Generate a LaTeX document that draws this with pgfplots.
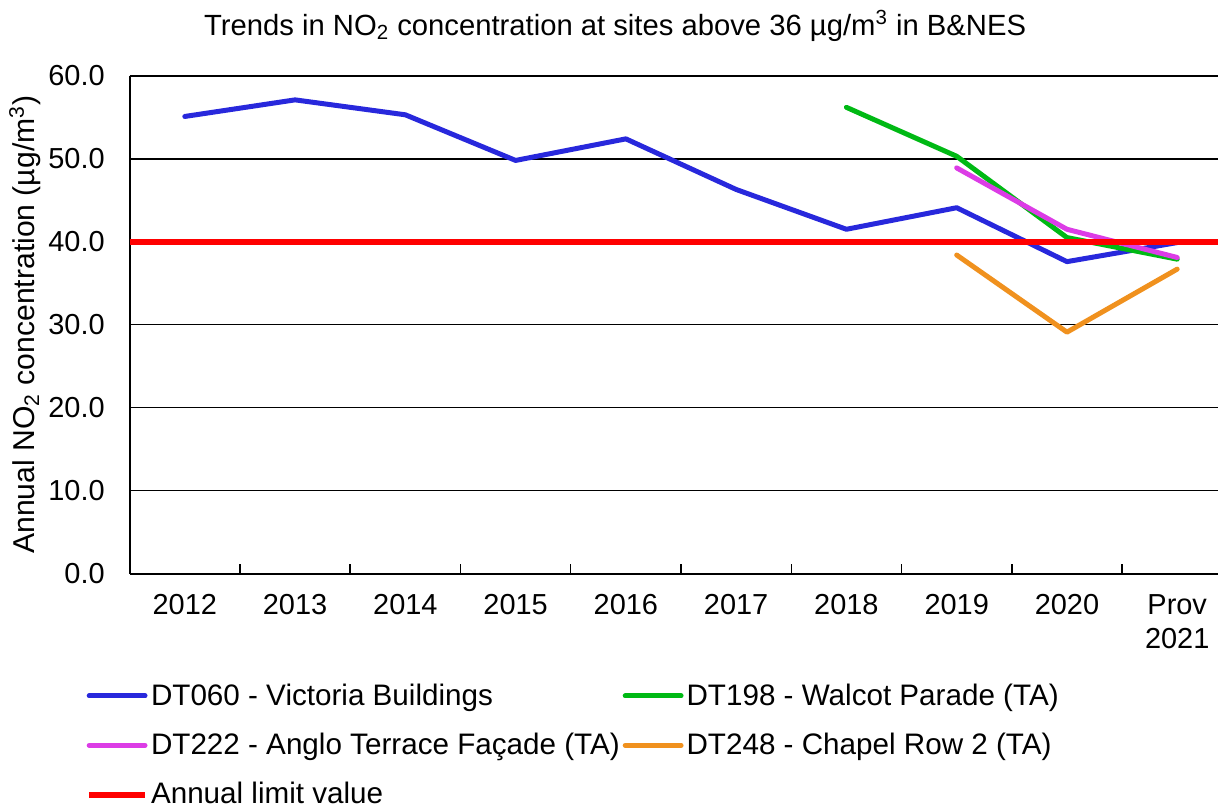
\documentclass[border=0pt]{standalone}
\usepackage{pgfplots}
\pgfplotsset{compat=1.18}
\usepackage{fontspec}
\setmainfont{Liberation Sans}

\definecolor{siteblue}{RGB}{40,40,220}
\definecolor{sitegreen}{RGB}{0,185,20}
\definecolor{sitemagenta}{RGB}{220,60,230}
\definecolor{siteorange}{RGB}{240,145,30}
\definecolor{limitred}{RGB}{255,0,0}

\begin{document}
\begin{tikzpicture}[font=\fontsize{14.5}{17}\selectfont]
\begin{axis}[
    name=ax,
    scale only axis,
    width=545.5pt, height=249.5pt,
    xmin=-0.5, xmax=9.37,
    ymin=0, ymax=60,
    axis x line*=bottom,
    axis y line*=left,
    axis line style={black, line width=1pt},
    ytick={0,10,...,60},
    yticklabel={\pgfmathprintnumber[fixed,fixed zerofill,precision=1,assume math mode=true]{\tick}},
    yticklabel style={xshift=-9pt},
    ytick style={draw=none},
    xtick={0,...,9},
    xticklabels={2012,2013,2014,2015,2016,2017,2018,2019,2020,{Prov\\2021}},
    xticklabel style={align=center, yshift=-7pt},
    major tick length=0pt,
    minor xtick={0.5,1.5,...,8.5},
    minor tick length=5pt,
    tick align=inside,
    minor x tick style={draw=black, line width=0.75pt},
    ymajorgrids,
    grid style={black, line width=0.75pt},
    ylabel={Annual NO\textsubscript{2} concentration (µg/m\textsuperscript{3})},
    ylabel style={font=\fontsize{15.1}{18}\selectfont, yshift=-3pt},
    title={Trends in NO\textsubscript{2} concentration at sites above 36 µg/m\textsuperscript{3} in B\&NES},
    title style={at={(0.446,1)}, anchor=center, yshift=19pt, font=\fontsize{14.65}{18}\selectfont},
    legend columns=2,
    legend cell align=left,
    legend style={at={(0,0)}, anchor=north west, xshift=-25pt, yshift=-53pt,
        draw=none, fill=none, row sep=12.5pt, font=\fontsize{14.85}{18}\selectfont,
        nodes={inner xsep=1.5pt, inner ysep=0pt},
        /tikz/every even column/.append style={column sep=0pt}},
    legend image code/.code={\draw[#1] (0pt,0pt) -- (28pt,0pt);},
    every axis plot/.append style={line width=2.5pt, line join=round, line cap=round},
    clip=false,
]
% DT060 - Victoria Buildings
\addplot[siteblue] coordinates {
    (0,55.1) (1,57.1) (2,55.3) (3,49.8) (4,52.4)
    (5,46.3) (6,41.5) (7,44.1) (8,37.6) (9,39.9)
};
% DT198 - Walcot Parade
\addplot[sitegreen] coordinates {
    (6,56.2) (7,50.3) (8,40.5) (9,37.9)
};
% DT222 - Anglo Terrace
\addplot[sitemagenta] coordinates {
    (7,48.9) (8,41.5) (9,38.1)
};
% DT248 - Chapel Row 2
\addplot[siteorange] coordinates {
    (7,38.4) (8,29.1) (9,36.7)
};
% limit value
\addplot[limitred, line width=3pt, line cap=butt] coordinates {
    (-0.5,40) (9.37,40)
};
\legend{DT060 - Victoria Buildings, DT198 - Walcot Parade (TA),
    DT222 - Anglo Terrace Façade (TA), DT248 - Chapel Row 2 (TA),
    Annual limit value}
\end{axis}
\path (ax.south west) ++(-65pt,-116pt) rectangle ([yshift=38pt]ax.north east);
\end{tikzpicture}
\end{document}
